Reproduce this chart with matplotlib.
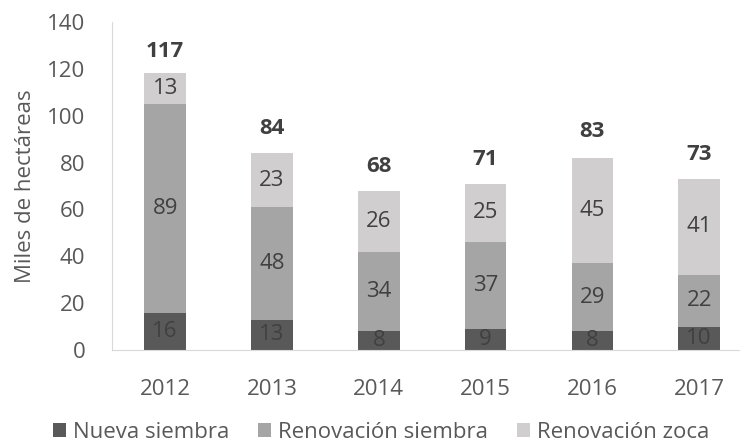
import matplotlib.pyplot as plt
import numpy as np

plt.rcParams['font.family'] = ['Open Sans', 'DejaVu Sans']

years = ["2012", "2013", "2014", "2015", "2016", "2017"]
nueva = [16, 13, 8, 9, 8, 10]
renov_siembra = [89, 48, 34, 37, 29, 22]
renov_zoca = [13, 23, 26, 25, 45, 41]
totals = [117, 84, 68, 71, 83, 73]

labels = ["Nueva siembra", "Renovación siembra", "Renovación zoca"]
colors = ["#595959", "#a5a5a5", "#d0cece"]
txt = "#404040"
fs = 16

fig = plt.figure(figsize=(7.4, 4.47), dpi=100)
ax = fig.add_axes([0.151, 0.217, 0.866, 0.734])

x = np.arange(len(years))
w = 0.39
series = [nueva, renov_siembra, renov_zoca]
bottom = np.zeros(len(years))
bars = []
for vals, col, lab in zip(series, colors, labels):
    b = ax.bar(x, vals, w, bottom=bottom, color=col, label=lab)
    bars.append(b)
    for xi, v, bo in zip(x, vals, bottom):
        ax.text(xi, bo + v / 2, str(v), ha='center', va='center',
                fontsize=fs, color=txt)
    bottom += np.array(vals)

for xi, t in zip(x, totals):
    ax.annotate(str(t), (xi, t), xytext=(0, 10), textcoords='offset points',
                ha='center', va='bottom', fontsize=fs, fontweight='bold', color=txt)

ax.set_xlim(-0.5, 5.5)
ax.set_ylim(0, 140)
ax.set_yticks(range(0, 141, 20))
ax.set_xticks(x)
ax.set_xticklabels(years)
ax.tick_params(length=0, labelsize=fs, colors='#595959')
ax.tick_params(axis='y', pad=19)
ax.tick_params(axis='x', pad=21)
for s in ['top', 'right']:
    ax.spines[s].set_visible(False)
for s in ['left', 'bottom']:
    ax.spines[s].set_color('#d9d9d9')

ax.set_ylabel("Miles de hectáreas", fontsize=fs, color='#595959', labelpad=8)

fig.legend(handles=bars, labels=labels, loc='lower center', ncol=3, frameon=False,
           fontsize=fs, handlelength=0.6, handleheight=0.6, handletextpad=0.3,
           columnspacing=1.3, bbox_to_anchor=(0.515, -0.035), labelcolor='#595959')

fig.savefig("out.png", dpi=100)
